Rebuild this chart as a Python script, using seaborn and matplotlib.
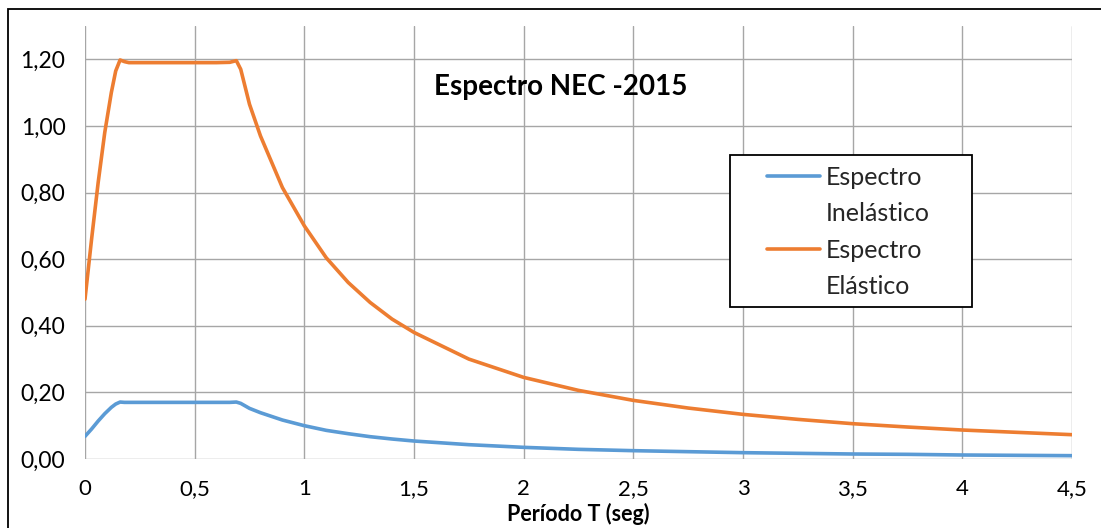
import numpy as np
import pandas as pd
import matplotlib
matplotlib.use("Agg")
import matplotlib.pyplot as plt
import seaborn as sns
from matplotlib.lines import Line2D
from matplotlib.patches import Rectangle

# ---- data ----
periodo = [0.00, 0.03, 0.06, 0.09, 0.12, 0.14, 0.16, 0.18, 0.20, 0.30, 0.40, 0.50, 0.60, 0.66, 0.69, 0.71,
           0.75, 0.80, 0.90, 1.00, 1.10, 1.20, 1.30, 1.40, 1.50, 1.75, 2.00,
           2.25, 2.50, 2.75, 3.00, 3.25, 3.50, 3.75, 4.00, 4.25, 4.50]
elastico = [0.48, 0.66, 0.83, 0.98, 1.10, 1.165, 1.198, 1.193, 1.190, 1.190, 1.190, 1.190, 1.190, 1.191, 1.196, 1.170,
            1.065, 0.970, 0.815, 0.700, 0.604, 0.530, 0.470, 0.420, 0.380, 0.300, 0.245,
            0.206, 0.176, 0.153, 0.134, 0.119, 0.106, 0.096, 0.087, 0.080, 0.073]
inelastico = [0.068, 0.090, 0.114, 0.136, 0.155, 0.165, 0.171, 0.170, 0.170, 0.170, 0.170, 0.170, 0.170, 0.170, 0.171, 0.167,
              0.152, 0.139, 0.117, 0.100, 0.086, 0.076, 0.067, 0.060, 0.054, 0.043, 0.035,
              0.029, 0.025, 0.022, 0.019, 0.017, 0.015, 0.014, 0.012, 0.011, 0.010]

series_names = ["Espectro Inelástico", "Espectro Elástico"]
legend_lines = [("Espectro", "Inelástico"), ("Espectro", "Elástico")]
colors = ["#5B9BD5", "#ED7D31"]
x_ticks = [0, 0.5, 1, 1.5, 2, 2.5, 3, 3.5, 4, 4.5]
x_tick_labels = ["0", "0,5", "1", "1,5", "2", "2,5", "3", "3,5", "4", "4,5"]
y_ticks = [0.0, 0.2, 0.4, 0.6, 0.8, 1.0, 1.2]
y_tick_labels = ["0,00", "0,20", "0,40", "0,60", "0,80", "1,00", "1,20"]
title = "Espectro NEC -2015"
xlabel = "Período T (seg)"

df = pd.DataFrame({
    "T": periodo * 2,
    "Sa": inelastico + elastico,
    "Serie": [series_names[0]] * len(periodo) + [series_names[1]] * len(periodo),
})

sns.set_theme(style="white")
plt.rcParams["font.family"] = ["Lato", "DejaVu Sans"]

W, H = 1101, 528
fig = plt.figure(figsize=(W / 100, H / 100), dpi=100)
ax = fig.add_axes([85 / W, (H - 459) / H, (1072 - 85) / W, (459 - 26) / H])

sns.lineplot(data=df, x="T", y="Sa", hue="Serie", palette=colors,
             hue_order=series_names, linewidth=2.6, ax=ax, legend=False, sort=False)

ax.set_xlim(0, 4.5)
ax.set_ylim(0, 1.30)
ax.set_xticks(x_ticks)
ax.set_xticklabels(x_tick_labels)
ax.set_yticks(y_ticks)
ax.set_yticklabels(y_tick_labels)
ax.grid(True, color="#A6A6A6", linewidth=1.0)
ax.set_axisbelow(True)
for s in ax.spines.values():
    s.set_visible(False)
ax.tick_params(axis="both", which="both", length=8.5 * 0.72, width=1.0,
               color="#A6A6A6", labelsize=16.5, labelcolor="black", direction="out")
ax.tick_params(axis="x", pad=8, labelsize=16)
ax.tick_params(axis="y", pad=8)
ax.set_xlabel("")
ax.set_ylabel("")

# title inside plot area
fig.text(561 / W, 1 - 87 / H, title, ha="center", va="center",
         fontsize=20, fontweight="bold", color="black")

# x label (partially cut at bottom like reference)
fig.text(578 / W, 1 - 521 / H, xlabel, ha="center", va="baseline",
         fontsize=15.5, fontweight="bold", color="black")

# legend frame (drawn separately for Excel-like padding)
fig.patches.append(Rectangle((730 / W, 1 - 307 / H), (972 - 730) / W, (307 - 155) / H,
                             transform=fig.transFigure, facecolor="white",
                             edgecolor="black", linewidth=1.3, zorder=4))

handles = []
labels = []
for c, (l1, l2) in zip(colors, legend_lines):
    handles.append(Line2D([0], [0], color=c, linewidth=2.6))
    labels.append(l1)
    handles.append(Line2D([0], [0], color="none"))
    labels.append(l2)
leg = fig.legend(handles, labels, loc="upper left",
                 bbox_to_anchor=(767 / W, 1 - 166 / H),
                 fontsize=18, frameon=False, handlelength=2.1, handletextpad=0.25,
                 labelspacing=0.53, borderpad=0, borderaxespad=0)
leg.set_zorder(5)

# figure border (chart area frame)
fig.patches.append(Rectangle((8 / W, -0.05), 1.2, 1 - 9 / H + 0.05,
                             transform=fig.transFigure, fill=False,
                             edgecolor="black", linewidth=1.3))

fig.savefig("out.png", dpi=100)
